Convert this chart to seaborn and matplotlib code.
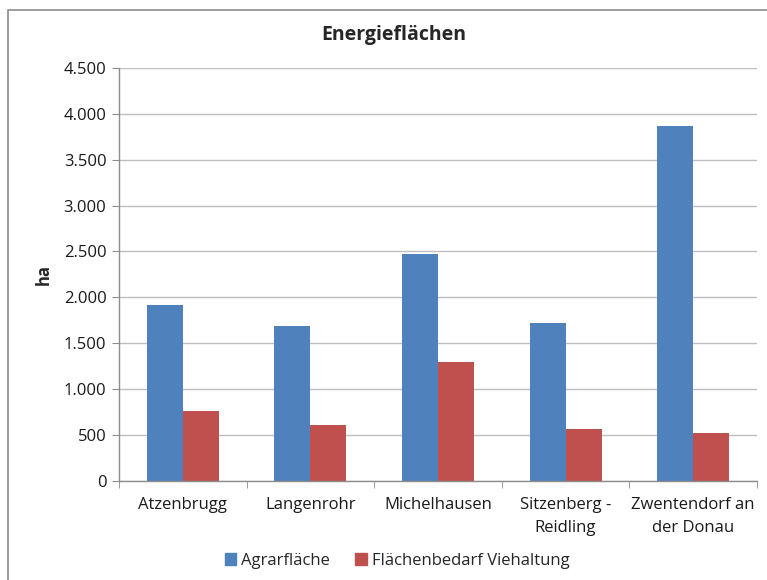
import numpy as np
import pandas as pd
import matplotlib
matplotlib.use("Agg")
import matplotlib.pyplot as plt
import matplotlib.patches as mpatches
from matplotlib.ticker import FuncFormatter
import seaborn as sns

# values (ha)
gemeinden = ["Atzenbrugg", "Langenrohr", "Michelhausen",
             "Sitzenberg -\nReidling", "Zwentendorf an\nder Donau"]
agrarflaeche = [1916, 1686, 2467, 1717, 3870]
viehhaltung = [758, 605, 1290, 568, 526]
series_names = ["Agrarfläche", "Flächenbedarf Viehaltung"]
colors = ["#4F81BD", "#C0504D"]

df = pd.DataFrame({
    "Gemeinde": gemeinden * 2,
    "Serie": [series_names[0]] * len(gemeinden) + [series_names[1]] * len(gemeinden),
    "ha": agrarflaeche + viehhaltung,
})

sns.set_style("white")
plt.rcParams["font.family"] = ["Open Sans", "DejaVu Sans"]

fig = plt.figure(figsize=(7.67, 5.80), dpi=100)
ax = fig.add_axes([0.155, 0.171, 0.832, 0.712])

sns.barplot(data=df, x="Gemeinde", y="ha", hue="Serie",
            palette=dict(zip(series_names, colors)), width=0.565,
            linewidth=0, saturation=1, ax=ax, legend=False)

ax.set_ylim(0, 4500)
ax.set_yticks(np.arange(0, 4501, 500))
ax.yaxis.set_major_formatter(FuncFormatter(lambda v, p: f"{int(v):,}".replace(",", ".")))
ax.set_xlim(-0.5, len(gemeinden) - 0.5)
ax.grid(axis="y", color="#BEBEBE", linewidth=1)
ax.set_axisbelow(True)

for side in ["top", "right"]:
    ax.spines[side].set_visible(False)
for side in ["left", "bottom"]:
    ax.spines[side].set_color("#8C8C8C")
    ax.spines[side].set_linewidth(1)

ax.tick_params(axis="y", which="major", length=5, color="#8C8C8C",
               labelsize=12, labelcolor="#1a1a1a", pad=4, left=True)
ax.tick_params(axis="x", which="major", length=0, labelsize=12,
               labelcolor="#1a1a1a", pad=12)
for lbl in ax.get_xticklabels():
    lbl.set_linespacing(1.55)
ax.set_xticks(np.arange(-0.5, len(gemeinden)), minor=True)
ax.tick_params(axis="x", which="minor", length=5, color="#8C8C8C", bottom=True)

ax.set_xlabel("")
ax.set_ylabel("ha", fontsize=12, fontweight="bold", labelpad=8)
fig.text(0.513, 0.94, "Energieflächen", ha="center", va="center",
         fontsize=14, fontweight="bold")

handles = [mpatches.Patch(color=c, label=n) for c, n in zip(colors, series_names)]
fig.legend(handles=handles, loc="center", bbox_to_anchor=(0.518, 0.033),
           ncol=2, frameon=False, fontsize=12, handlelength=0.7,
           handleheight=0.7, handletextpad=0.3, columnspacing=1.5)

# outer chart frame
fig.patches.append(mpatches.Rectangle((0.011, -0.01), 1.2, 0.993,
                                      transform=fig.transFigure, fill=False,
                                      edgecolor="#8C8C8C", linewidth=1.2))

fig.savefig("out.png", dpi=100)
